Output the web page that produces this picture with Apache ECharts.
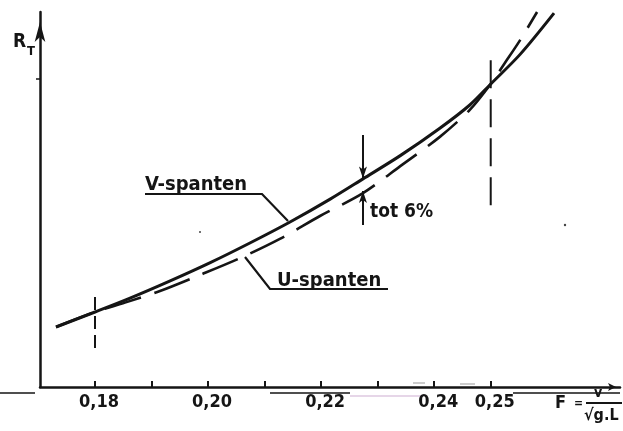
<!DOCTYPE html>
<html><head><meta charset="utf-8">
<script src="https://cdn.jsdelivr.net/npm/echarts@6/dist/echarts.min.js"></script>
<style>html,body{margin:0;padding:0;background:#fff}#c{width:623px;height:431px}</style>
</head><body><div id="c"></div>
<script>
// Froude number ticks and labels
const xTicks = [0.18, 0.19, 0.20, 0.21, 0.22, 0.23, 0.24, 0.25];
const xLabels = [0.18, 0.20, 0.22, 0.24, 0.25];
// V-spanten (solid) resistance curve, arbitrary units
const vX = [0.1731, 0.1800, 0.1862, 0.1933, 0.2003, 0.2074, 0.2145, 0.2216, 0.2274, 0.2340, 0.2410, 0.2463, 0.2500, 0.2552, 0.2612];
const vY = [16.0, 20.0, 23.7, 28.3, 33.1, 38.4, 44.0, 50.1, 55.5, 61.7, 69.0, 75.2, 80.8, 88.7, 99.7];
// U-spanten (dashed) resistance curve
const uX = [0.1731, 0.1800, 0.1853, 0.1915, 0.1986, 0.2057, 0.2127, 0.2198, 0.2274, 0.2340, 0.2410, 0.2463, 0.2500, 0.2525, 0.2552, 0.2582];
const uY = [16.0, 20.0, 22.5, 25.6, 29.9, 34.4, 39.5, 45.6, 51.7, 58.9, 66.7, 73.9, 80.8, 86.4, 92.5, 100.0];
// dashed reference verticals
const refX = [0.18, 0.25];
const refLo = [10.4, 48.5];
const refHi = [25.3, 88.0];
// "tot 6%" difference marker
const diffX = 0.2274;
const diffTop = 67.2;
const diffBottom = 43.2;
const diffV = 55.6;
const diffU = 52.3;

const INK = '#151515';
const FONT = '"DejaVu Sans Condensed", "DejaVu Sans", sans-serif';

const chart = echarts.init(document.getElementById('c'));

const refSeries = refX.map((x, i) => ({
  type: 'line', silent: true, symbol: 'none', animation: false,
  data: [[x, refLo[i]], [x, refHi[i]]],
  lineStyle: { color: INK, width: 2, type: i === 0 ? [13, 6] : [28, 11] }
}));

chart.setOption({
  animation: false,
  backgroundColor: '#fff',
  grid: { left: 40, right: 3, top: 12, bottom: 44, containLabel: false },
  xAxis: {
    type: 'value', min: 0.17027, max: 0.27287,
    axisLine: { show: true, symbol: ['none', 'arrow'], symbolSize: [6, 8], symbolOffset: [0, -4],
      lineStyle: { color: INK, width: 2.5 } },
    axisTick: { show: true, inside: true, length: 6, customValues: xTicks, lineStyle: { color: INK, width: 2 } },
    axisLabel: { customValues: xLabels, margin: 6, color: INK, fontFamily: FONT, fontWeight: 'bold', fontSize: 18,
      padding: [0, 0, 0, 8],
      formatter: v => v.toFixed(2).replace('.', ',') },
    splitLine: { show: false }
  },
  yAxis: {
    type: 'value', min: 0, max: 100,
    axisLine: { show: true, symbol: ['none', 'arrow'], symbolSize: [8, 20], symbolOffset: [0, -10],
      lineStyle: { color: INK, width: 2.5 } },
    axisTick: { show: true, length: 4, customValues: [82.1], lineStyle: { color: INK, width: 1.5 } },
    axisLabel: { show: false },
    splitLine: { show: false }
  },
  series: [
    { name: 'V-spanten', type: 'line', symbol: 'none', smooth: 0.3, clip: true,
      data: vX.map((x, i) => [x, vY[i]]),
      lineStyle: { color: INK, width: 3 } },
    { name: 'U-spanten', type: 'line', symbol: 'none', smooth: 0.3, clip: true,
      data: uX.map((x, i) => [x, uY[i]]),
      lineStyle: { color: INK, width: 2.6, type: [38, 14] } },
    ...refSeries,
    { type: 'line', symbol: 'none', data: [], silent: true,
      markLine: { silent: true, animation: false, symbol: ['none', 'arrow'], symbolSize: [6, 12],
        label: { show: false },
        lineStyle: { color: INK, width: 2, type: 'solid' },
        data: [
          [{ coord: [diffX, diffTop] }, { coord: [diffX, diffV] }],
          [{ coord: [diffX, diffBottom] }, { coord: [diffX, diffU] }]
        ] } }
  ],
  graphic: [
    // Y axis name R_T
    { type: 'text', left: 13, top: 33, style: { text: 'R', font: 'bold 19px ' + FONT, fill: INK } },
    { type: 'text', left: 27, top: 45, style: { text: 'T', font: 'bold 13px ' + FONT, fill: INK } },
    // V-spanten label
    { type: 'text', x: 145, y: 185, style: { text: 'V-spanten', font: 'bold 20px ' + FONT, fill: INK, textVerticalAlign: 'middle' } },
    { type: 'polyline', shape: { points: [[145, 194], [262, 194], [288, 221]] }, style: { stroke: INK, lineWidth: 2.2, fill: null } },
    // U-spanten label
    { type: 'text', x: 277, y: 281, style: { text: 'U-spanten', font: 'bold 20px ' + FONT, fill: INK, textVerticalAlign: 'middle' } },
    { type: 'polyline', shape: { points: [[388, 289], [270, 289], [245, 257]] }, style: { stroke: INK, lineWidth: 2.2, fill: null } },
    // tot 6%
    { type: 'text', x: 370, y: 212, style: { text: 'tot 6%', font: 'bold 19px ' + FONT, fill: INK, textVerticalAlign: 'middle' } },
    // axis name F = v / sqrt(g.L)
    { type: 'text', x: 555, y: 403, style: { text: 'F', font: 'bold 18px ' + FONT, fill: INK, textVerticalAlign: 'middle' } },
    { type: 'text', x: 574, y: 404, style: { text: '=', font: 'bold 12px ' + FONT, fill: INK, textVerticalAlign: 'middle' } },
    { type: 'text', x: 598, y: 393, style: { text: 'v', font: 'bold 14px ' + FONT, fill: INK, textAlign: 'center', textVerticalAlign: 'middle' } },
    { type: 'line', shape: { x1: 586, y1: 403, x2: 622, y2: 403 }, style: { stroke: INK, lineWidth: 2 } },
    { type: 'text', x: 584, y: 416, style: { text: '√g.L', font: 'bold 16px ' + FONT, fill: INK, textVerticalAlign: 'middle' } },
    // scan artefacts
    { type: 'line', shape: { x1: 0, y1: 393, x2: 35, y2: 393 }, style: { stroke: INK, lineWidth: 1.5 } },
    { type: 'line', shape: { x1: 270, y1: 393, x2: 350, y2: 393 }, style: { stroke: INK, lineWidth: 1.5 } },
    { type: 'line', shape: { x1: 350, y1: 396, x2: 422, y2: 396 }, style: { stroke: '#e6d6e8', lineWidth: 2 } },
    { type: 'line', shape: { x1: 513, y1: 393, x2: 620, y2: 393 }, style: { stroke: INK, lineWidth: 1.5 } },
    { type: 'line', shape: { x1: 413, y1: 383, x2: 425, y2: 383 }, style: { stroke: '#999', lineWidth: 1 } },
    { type: 'line', shape: { x1: 460, y1: 384, x2: 475, y2: 384 }, style: { stroke: '#999', lineWidth: 1 } },
    { type: 'circle', shape: { cx: 200, cy: 232, r: 1 }, style: { fill: '#444' } },
    { type: 'circle', shape: { cx: 565, cy: 225, r: 1.2 }, style: { fill: '#444' } }
  ]
});
</script>
</body></html>
